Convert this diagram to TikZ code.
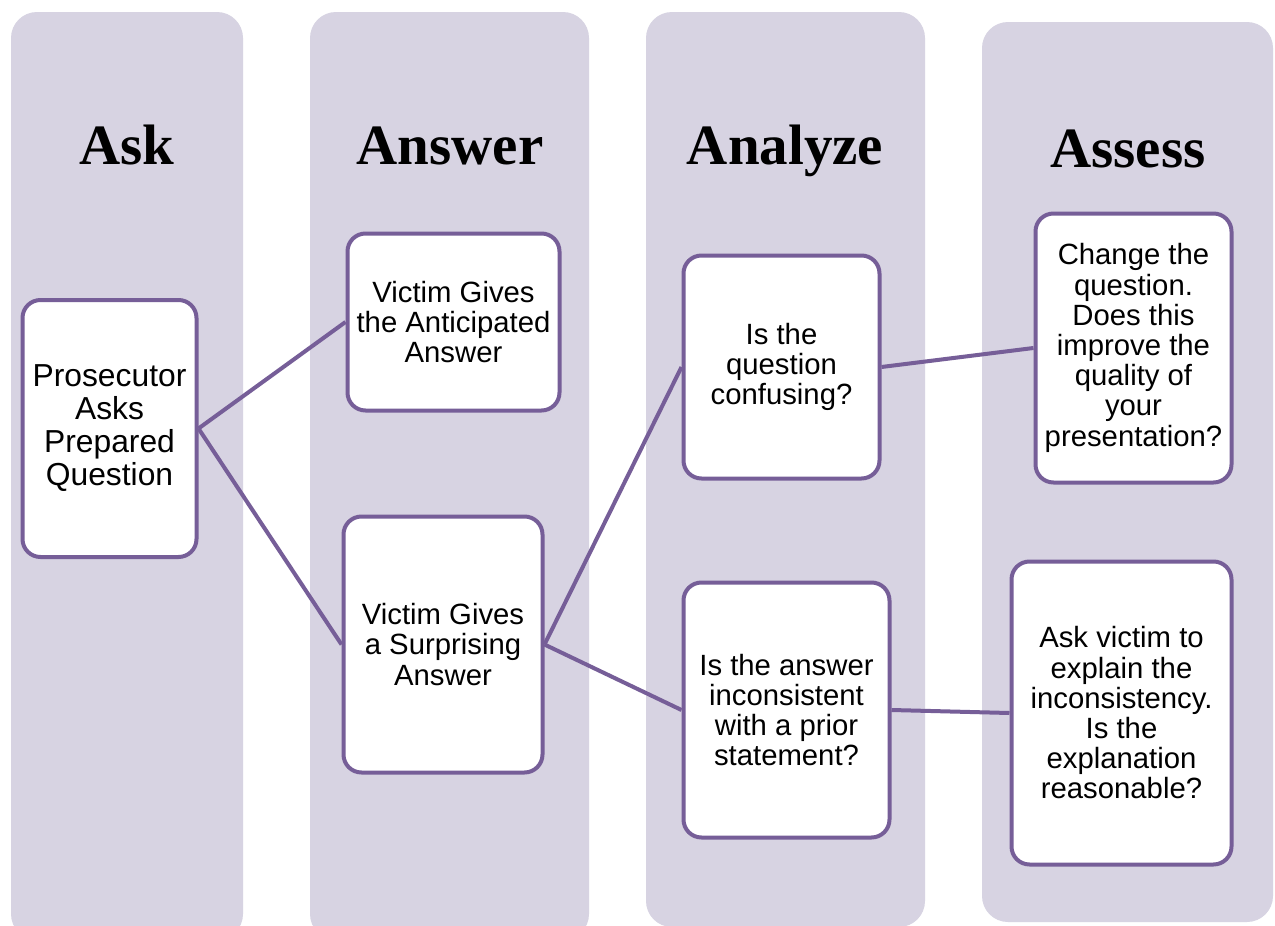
\documentclass[tikz,border=0pt]{standalone}
\usepackage{fontspec}
\setmainfont{Liberation Sans}
\newfontfamily\headfont{Liberation Serif}
\definecolor{colfill}{HTML}{D7D3E2}
\definecolor{purp}{HTML}{765E98}
\begin{document}
\begin{tikzpicture}[x=1pt,y=-1pt,
  column/.style={fill=colfill, draw=none, rounded corners=26pt},
  head/.style={font=\headfont\bfseries\fontsize{57}{64}\selectfont, text=black, anchor=base},
  box/.style={draw=purp, line width=4pt, fill=white, rounded corners=18pt, align=center, inner sep=2pt,
    font=\fontsize{29.3}{30.2}\selectfont},
  link/.style={draw=purp, line width=4pt}
]
\useasboundingbox (0,0) rectangle (1275,926);
\fill[white] (0,0) rectangle (1275,926);
% columns
\path[column] (11,12) rectangle (243,940);
\path[column] (310,12) rectangle (589,940);
\path[column] (646,12) rectangle (925,927);
\path[column] (982,22) rectangle (1273,922);
% headings
\node[head] (h1) at (127,164) {Ask};
\node[head] (h2) at (450,164) {Answer};
\node[head] (h3) at (785,164) {Analyze};
\node[head] (h4) at (1128,167) {Assess};
% boxes
\node[box, minimum width=174pt, minimum height=257pt, font=\fontsize{31.8}{33}\selectfont] (P) at (109.5,428.5)
  {Prosecutor\\Asks\\Prepared\\Question};
\node[box, minimum width=212pt, minimum height=177pt] (A1) at (453.5,322)
  {Victim Gives\\the Anticipated\\Answer};
\node[box, minimum width=199pt, minimum height=256pt] (A2) at (443,644.5)
  {Victim Gives\\a Surprising\\Answer};
\node[box, minimum width=196pt, minimum height=223pt] (Q1) at (781.5,367)
  {Is the\\question\\confusing?};
\node[box, minimum width=206pt, minimum height=255pt] (Q2) at (786.5,710)
  {Is the answer\\inconsistent\\with a prior\\statement?};
\node[box, minimum width=196pt, minimum height=269pt] (S1) at (1133.5,348)
  {Change the\\question.\\Does this\\improve the\\quality of\\your\\presentation?};
\node[box, minimum width=220pt, minimum height=303pt] (S2) at (1121.5,713)
  {Ask victim to\\explain the\\inconsistency.\\Is the\\explanation\\reasonable?};
% connectors
\draw[link] (P.east) -- (A1.west);
\draw[link] (P.east) -- (A2.west);
\draw[link] (A2.east) -- (Q1.west);
\draw[link] (A2.east) -- (Q2.west);
\draw[link] (Q1.east) -- (S1.west);
\draw[link] (Q2.east) -- (S2.west);
\end{tikzpicture}
\end{document}
